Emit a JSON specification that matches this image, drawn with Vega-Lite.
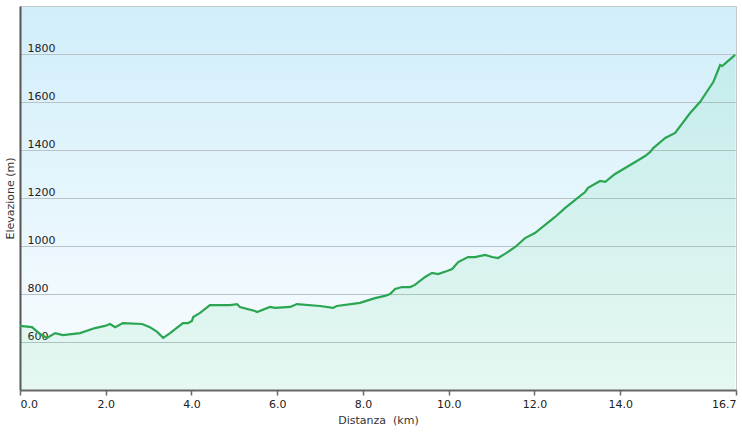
{
  "$schema": "https://vega.github.io/schema/vega-lite/v6.json",
  "width": 716,
  "height": 384,
  "autosize": {"type": "none"},
  "padding": {"left": 20, "top": 6, "right": 6, "bottom": 49},
  "background": "white",
  "config": {
    "view": {
      "stroke": "#c4c9cc",
      "strokeWidth": 1,
      "fill": {
        "gradient": "linear", "x1": 0, "y1": 0, "x2": 0, "y2": 1,
        "stops": [
          {"offset": 0, "color": "#d0eefa"},
          {"offset": 1, "color": "#fbfdff"}
        ]
      }
    },
    "font": "DejaVu Sans"
  },
  "data": {"values": [
    {"km": 0.0, "m": 667}, {"km": 0.28, "m": 662}, {"km": 0.47, "m": 633}, {"km": 0.63, "m": 617},
    {"km": 0.82, "m": 637}, {"km": 1.0, "m": 629}, {"km": 1.4, "m": 637}, {"km": 1.75, "m": 658},
    {"km": 1.98, "m": 667}, {"km": 2.1, "m": 675}, {"km": 2.22, "m": 662}, {"km": 2.4, "m": 679},
    {"km": 2.85, "m": 675}, {"km": 3.03, "m": 662}, {"km": 3.2, "m": 642}, {"km": 3.34, "m": 617},
    {"km": 3.5, "m": 637}, {"km": 3.62, "m": 654}, {"km": 3.8, "m": 679}, {"km": 3.92, "m": 679},
    {"km": 4.01, "m": 688}, {"km": 4.04, "m": 704}, {"km": 4.2, "m": 721}, {"km": 4.43, "m": 754},
    {"km": 4.9, "m": 754}, {"km": 5.06, "m": 758}, {"km": 5.13, "m": 746}, {"km": 5.48, "m": 729},
    {"km": 5.53, "m": 725}, {"km": 5.83, "m": 746}, {"km": 5.95, "m": 742}, {"km": 6.3, "m": 746},
    {"km": 6.46, "m": 758}, {"km": 7.0, "m": 750}, {"km": 7.3, "m": 742}, {"km": 7.39, "m": 750},
    {"km": 7.93, "m": 763}, {"km": 8.28, "m": 783}, {"km": 8.51, "m": 792}, {"km": 8.63, "m": 800},
    {"km": 8.75, "m": 821}, {"km": 8.91, "m": 829}, {"km": 9.1, "m": 829}, {"km": 9.21, "m": 838},
    {"km": 9.45, "m": 871}, {"km": 9.61, "m": 888}, {"km": 9.75, "m": 883}, {"km": 9.96, "m": 896},
    {"km": 10.08, "m": 904}, {"km": 10.22, "m": 933}, {"km": 10.45, "m": 954}, {"km": 10.61, "m": 954},
    {"km": 10.85, "m": 963}, {"km": 11.01, "m": 954}, {"km": 11.15, "m": 950}, {"km": 11.31, "m": 967},
    {"km": 11.55, "m": 996}, {"km": 11.78, "m": 1033}, {"km": 12.01, "m": 1054}, {"km": 12.48, "m": 1121},
    {"km": 12.71, "m": 1158}, {"km": 12.95, "m": 1192}, {"km": 13.18, "m": 1225}, {"km": 13.25, "m": 1242},
    {"km": 13.53, "m": 1271}, {"km": 13.65, "m": 1267}, {"km": 13.88, "m": 1300}, {"km": 14.35, "m": 1350},
    {"km": 14.58, "m": 1375}, {"km": 14.7, "m": 1392}, {"km": 14.77, "m": 1408}, {"km": 15.05, "m": 1450},
    {"km": 15.28, "m": 1471}, {"km": 15.63, "m": 1554}, {"km": 15.86, "m": 1600}, {"km": 16.17, "m": 1683},
    {"km": 16.33, "m": 1754}, {"km": 16.38, "m": 1750}, {"km": 16.49, "m": 1767}, {"km": 16.68, "m": 1796}
  ]},
  "encoding": {
    "x": {
      "field": "km", "type": "quantitative",
      "scale": {"domain": [0, 16.7], "nice": false, "zero": false},
      "axis": {
        "title": "Distanza\u00a0 (km)",
        "values": [0, 2, 4, 6, 8, 10, 12, 14, 16.7],
        "format": ".1f",
        "labelFlush": true,
        "grid": false,
        "zindex": 1,
        "domainColor": "#666666",
        "domainWidth": 2,
        "tickColor": "#666666",
        "tickWidth": 1.5,
        "tickSize": 5,
        "labelPadding": 3,
        "labelFontSize": 11,
        "labelColor": "#222222",
        "titleFontSize": 11,
        "titleFontWeight": "normal",
        "titleColor": "#333333",
        "titlePadding": 5
      }
    },
    "y": {
      "field": "m", "type": "quantitative",
      "scale": {"domain": [400, 2000], "nice": false, "zero": false},
      "axis": {
        "title": "Elevazione (m)",
        "values": [600, 800, 1000, 1200, 1400, 1600, 1800],
        "format": "d",
        "grid": true,
        "zindex": 0,
        "gridColor": "#b9c2c6",
        "gridWidth": 1,
        "ticks": false,
        "tickSize": 0,
        "labelAlign": "left",
        "labelBaseline": "alphabetic",
        "labelPadding": -7,
        "labelOffset": -3,
        "labelFlush": false,
        "labelFontSize": 11,
        "labelColor": "#222222",
        "domainColor": "#555555",
        "domainWidth": 2,
        "titleFontSize": 11,
        "titleFontWeight": "normal",
        "titleColor": "#333333",
        "titlePadding": 5
      }
    }
  },
  "layer": [
    {
      "mark": {"type": "area", "color": "#2ecc71", "opacity": 0.1},
      "encoding": {"y2": {"datum": 400}}
    },
    {
      "mark": {"type": "line", "color": "#2aa551", "strokeWidth": 2.2},
      "encoding": {}
    }
  ]
}
